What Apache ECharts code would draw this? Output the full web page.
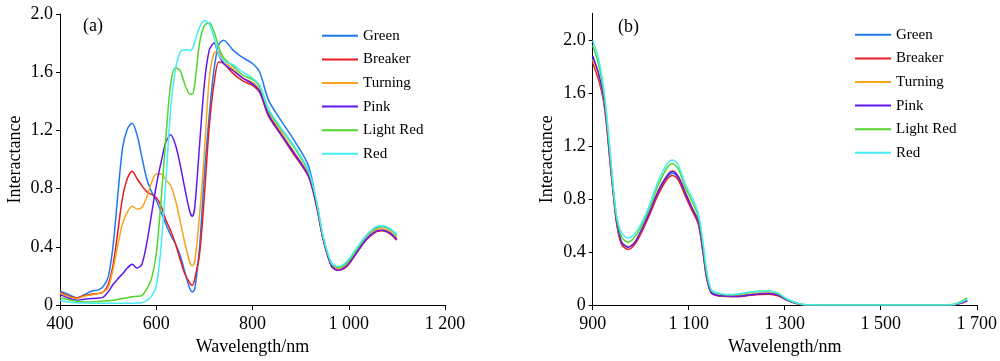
<!DOCTYPE html>
<html>
<head>
<meta charset="utf-8">
<script src="https://cdn.jsdelivr.net/npm/echarts@6/dist/echarts.min.js"></script>
<style>html,body{margin:0;padding:0;background:#fff}#c{width:1000px;height:361px}</style>
</head>
<body>
<div id="c"></div>
<script>
// ---------- data ----------
var seriesNames = ['Green', 'Breaker', 'Turning', 'Pink', 'Light Red', 'Red'];
var seriesColors = ['#1f77f2', '#e81c22', '#f5a41c', '#5f18f0', '#52d42a', '#45eef5'];

// Panel (a): wavelength grid (nm)
var nmA = [400,420,435,450,465,480,490,500,510,520,530,540,550,560,570,580,590,600,610,620,630,640,650,660,670,675,680,690,700,710,720,730,740,760,780,800,815,833,857,885,916,933,947,964,978,996,1016,1037,1058,1070,1086,1100];

var greenA = [0.095,0.07,0.05,0.07,0.095,0.105,0.13,0.19,0.40,0.75,1.08,1.21,1.25,1.17,1.02,0.87,0.78,0.72,0.64,0.555,0.48,0.42,0.34,0.22,0.11,0.09,0.11,0.40,0.90,1.30,1.62,1.79,1.82,1.75,1.70,1.66,1.60,1.41,1.28,1.14,0.96,0.70,0.45,0.28,0.26,0.29,0.38,0.48,0.53,0.54,0.52,0.48];
var breakerA = [0.088,0.06,0.05,0.065,0.075,0.08,0.09,0.14,0.27,0.50,0.74,0.87,0.92,0.87,0.82,0.78,0.76,0.74,0.68,0.585,0.51,0.42,0.31,0.21,0.15,0.135,0.18,0.35,0.75,1.22,1.52,1.67,1.66,1.59,1.54,1.51,1.46,1.30,1.18,1.04,0.885,0.68,0.45,0.27,0.24,0.265,0.355,0.45,0.505,0.51,0.49,0.445];
var turningA = [0.083,0.055,0.045,0.06,0.07,0.08,0.09,0.12,0.24,0.41,0.56,0.64,0.68,0.66,0.67,0.74,0.84,0.90,0.90,0.86,0.82,0.72,0.57,0.42,0.29,0.27,0.30,0.62,1.05,1.55,1.73,1.74,1.68,1.62,1.56,1.53,1.48,1.32,1.20,1.06,0.90,0.69,0.455,0.275,0.25,0.275,0.365,0.46,0.52,0.525,0.505,0.46];
var pinkA = [0.072,0.045,0.034,0.04,0.045,0.048,0.055,0.09,0.14,0.18,0.215,0.255,0.28,0.255,0.28,0.42,0.62,0.82,0.98,1.12,1.17,1.10,0.96,0.79,0.64,0.61,0.67,1.10,1.52,1.75,1.80,1.72,1.66,1.61,1.56,1.52,1.47,1.31,1.185,1.05,0.89,0.685,0.45,0.27,0.24,0.27,0.36,0.455,0.51,0.515,0.495,0.45];
var lightRedA = [0.05,0.035,0.027,0.022,0.022,0.025,0.028,0.03,0.033,0.038,0.045,0.05,0.058,0.06,0.065,0.11,0.18,0.35,0.72,1.15,1.52,1.63,1.61,1.51,1.45,1.45,1.52,1.80,1.92,1.94,1.88,1.77,1.70,1.64,1.58,1.55,1.50,1.34,1.22,1.09,0.92,0.71,0.465,0.285,0.26,0.29,0.38,0.475,0.535,0.54,0.52,0.475];
var redA = [0.034,0.02,0.016,0.014,0.013,0.013,0.013,0.013,0.013,0.013,0.013,0.013,0.013,0.014,0.016,0.03,0.06,0.13,0.40,0.85,1.35,1.62,1.74,1.755,1.75,1.76,1.81,1.91,1.955,1.93,1.84,1.72,1.68,1.65,1.60,1.56,1.51,1.35,1.23,1.10,0.93,0.72,0.47,0.29,0.265,0.30,0.39,0.48,0.54,0.545,0.525,0.48];

// Panel (b): wavelength grid (nm)
var nmB = [900,912,922,929,936,943,950,960,974,988,1002,1019,1036,1054,1066,1078,1092,1106,1120,1130,1137,1147,1161,1180,1200,1220,1248,1268,1286,1303,1324,1341,1400,1500,1600,1650,1663,1673,1680];

var greenB = [1.86,1.73,1.57,1.37,1.10,0.845,0.625,0.475,0.44,0.475,0.565,0.70,0.85,0.96,0.995,0.96,0.845,0.735,0.625,0.40,0.22,0.095,0.073,0.067,0.066,0.073,0.085,0.087,0.074,0.042,0.013,0.002,0,0,0,0.002,0.012,0.025,0.035];
var breakerB = [1.83,1.70,1.55,1.35,1.08,0.83,0.61,0.46,0.42,0.46,0.55,0.685,0.83,0.945,0.978,0.945,0.83,0.72,0.61,0.39,0.21,0.09,0.07,0.065,0.063,0.07,0.08,0.082,0.07,0.04,0.012,0.002,0,0,0,0.002,0.01,0.02,0.03];
var turningB = [1.85,1.73,1.57,1.37,1.10,0.85,0.63,0.478,0.44,0.478,0.57,0.71,0.86,0.975,1.015,0.975,0.86,0.745,0.635,0.41,0.225,0.097,0.075,0.07,0.07,0.078,0.09,0.092,0.078,0.044,0.014,0.003,0,0,0,0.002,0.012,0.025,0.035];
var pinkB = [1.88,1.75,1.58,1.38,1.105,0.85,0.63,0.475,0.437,0.475,0.57,0.705,0.855,0.97,1.007,0.97,0.855,0.74,0.63,0.405,0.22,0.095,0.073,0.068,0.066,0.074,0.086,0.088,0.075,0.042,0.013,0.002,0,0,0,0.002,0.012,0.025,0.035];
var lightRedB = [1.955,1.82,1.63,1.42,1.15,0.875,0.655,0.515,0.474,0.515,0.60,0.74,0.90,1.03,1.065,1.03,0.895,0.79,0.67,0.45,0.25,0.11,0.088,0.078,0.08,0.09,0.103,0.104,0.087,0.048,0.016,0.003,0,0,0,0.004,0.02,0.038,0.055];
var redB = [1.995,1.86,1.66,1.44,1.17,0.89,0.67,0.545,0.505,0.54,0.62,0.76,0.93,1.06,1.094,1.06,0.92,0.82,0.69,0.47,0.27,0.115,0.092,0.08,0.082,0.094,0.107,0.107,0.09,0.05,0.018,0.004,0,0,0,0.003,0.015,0.03,0.045];

var yTicksB = [0, 0.4, 0.8, 1.2, 1.6, 2.0];

// ---------- chart ----------
var FONT = "'Liberation Serif','Times New Roman',serif";
var valsA = [greenA, breakerA, turningA, pinkA, lightRedA, redA];
var valsB = [greenB, breakerB, turningB, pinkB, lightRedB, redB];

function fmtX(v) {
  var s = String(v);
  return s.length > 3 ? s.slice(0, s.length - 3) + ' ' + s.slice(-3) : s;
}
function fmtY(v) { return v === 0 ? '0' : v.toFixed(1); }

function xAxis(gi, min, max) {
  return {
    type: 'value', gridIndex: gi, min: min, max: max, interval: 200,
    name: 'Wavelength/nm', nameLocation: 'middle', nameGap: 31,
    nameTextStyle: { fontFamily: FONT, fontSize: 18, color: '#000' },
    axisLine: { show: true, lineStyle: { color: '#000', width: 1 } },
    axisTick: { show: true, length: 5, inside: false, lineStyle: { color: '#000' } },
    axisLabel: { fontFamily: FONT, fontSize: 18, color: '#000', margin: 10, formatter: fmtX },
    splitLine: { show: false }
  };
}
function yAxis(gi, max, custom) {
  var ax = {
    type: 'value', gridIndex: gi, min: 0, max: max, interval: 0.4,
    name: 'Interactance', nameLocation: 'middle', nameGap: 36, nameRotate: 90,
    nameTextStyle: { fontFamily: FONT, fontSize: 18, color: '#000' },
    axisLine: { show: true, lineStyle: { color: '#000', width: 1 } },
    axisTick: { show: true, length: 4, inside: false, lineStyle: { color: '#000' } },
    axisLabel: { fontFamily: FONT, fontSize: 18, color: '#000', margin: 7, formatter: fmtY },
    splitLine: { show: false }
  };
  if (custom) {
    ax.axisTick.customValues = custom;
    ax.axisLabel.customValues = custom;
  }
  return ax;
}
function legend(left, top) {
  return {
    orient: 'vertical', left: left, top: top,
    data: seriesNames, icon: 'rect', itemWidth: 36, itemHeight: 2,
    itemGap: 0, itemTextGap: 6, selectedMode: false,
    textStyle: { fontFamily: FONT, fontSize: 15, color: '#000', lineHeight: 23.6 }
  };
}

var series = [];
for (var p = 0; p < 2; p++) {
  var nm = p === 0 ? nmA : nmB;
  var vals = p === 0 ? valsA : valsB;
  for (var s = 0; s < seriesNames.length; s++) {
    series.push({
      type: 'line', name: seriesNames[s], xAxisIndex: p, yAxisIndex: p,
      data: nm.map(function (w, i) { return [w, this[i]]; }, vals[s]),
      showSymbol: false, smooth: 0.3, animation: false,
      lineStyle: { width: 1.5, color: seriesColors[s] },
      itemStyle: { color: seriesColors[s] }
    });
  }
}

var chart = echarts.init(document.getElementById('c'), null, { renderer: 'canvas' });
chart.setOption({
  animation: false,
  color: seriesColors,
  grid: [
    { left: 60, top: 14, width: 385, height: 295.3 },
    { left: 592.7, top: 13.3, width: 385, height: 295.4 }
  ],
  xAxis: [xAxis(0, 400, 1200), xAxis(1, 900, 1700)],
  yAxis: [yAxis(0, 2.0, null), yAxis(1, 2.2, yTicksB)],
  legend: [legend(317, 19), legend(850, 18)],
  graphic: [
    { type: 'text', left: 83, top: 17, style: { text: '(a)', font: '18px ' + FONT, fill: '#000' } },
    { type: 'text', left: 618, top: 18, style: { text: '(b)', font: '18px ' + FONT, fill: '#000' } }
  ],
  series: series
});
</script>
</body>
</html>
